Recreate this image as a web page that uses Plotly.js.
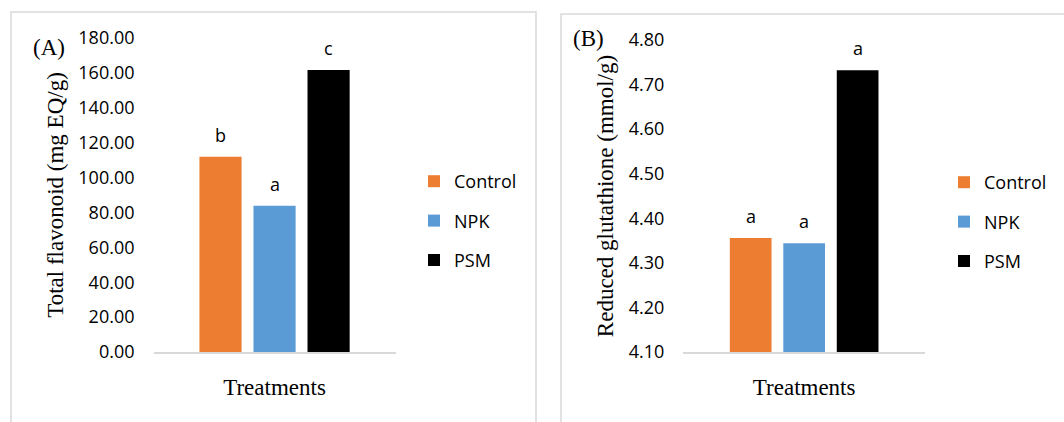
<!DOCTYPE html>
<html>
<head>
<meta charset="utf-8">
<script src="https://cdn.plot.ly/plotly-3.0.1.min.js"></script>
<style>html,body{margin:0;padding:0;background:#fff}#chart{width:1064px;height:422px}</style>
</head>
<body>
<div id="chart"></div>
<script>
// ---- Data ----
const treatments = ["Control", "NPK", "PSM"];
const flavonoid = [111.9, 83.8, 161.6];
const flavonoidLetters = ["b", "a", "c"];
const glutathione = [4.356, 4.344, 4.732];
const glutathioneLetters = ["a", "a", "a"];
const seriesColors = ["#ED7D31", "#5B9BD5", "#000000"];
const panelLabels = ["(A)", "(B)"];
const yTitles = ["Total flavonoid (mg EQ/g)", "Reduced glutathione (mmol/g)"];
const xTitle = "Treatments";

const W = 1064, H = 422;
const sans = "Open Sans, Liberation Sans, sans-serif";
const serif = "Liberation Serif, Times New Roman, serif";

const traces = [];
treatments.forEach((t, i) => {
  traces.push({
    type: "bar", name: t, x: [t], y: [flavonoid[i]],
    xaxis: "x", yaxis: "y", legend: "legend", legendgroup: "a" + i,
    marker: {color: seriesColors[i], line: {width: 0}},
    hoverinfo: "name+y"
  });
});
treatments.forEach((t, i) => {
  traces.push({
    type: "bar", name: t, x: [t], y: [glutathione[i]],
    xaxis: "x2", yaxis: "y2", legend: "legend2", legendgroup: "b" + i,
    marker: {color: seriesColors[i], line: {width: 0}},
    hoverinfo: "name+y"
  });
});

const annotations = [];
treatments.forEach((t, i) => {
  annotations.push({xref: "x", yref: "y", x: t, y: flavonoid[i], text: flavonoidLetters[i],
    showarrow: false, yanchor: "middle", yshift: 22, font: {family: sans, size: 18, color: "#000"}});
  annotations.push({xref: "x2", yref: "y2", x: t, y: glutathione[i], text: glutathioneLetters[i],
    showarrow: false, yanchor: "middle", yshift: 22, font: {family: sans, size: 18, color: "#000"}});
});
annotations.push({xref: "paper", yref: "paper", x: 49 / W, y: (H - 48) / H, text: panelLabels[0],
  showarrow: false, xanchor: "center", yanchor: "middle", font: {family: serif, size: 23, color: "#000"}});
annotations.push({xref: "paper", yref: "paper", x: 588.5 / W, y: (H - 38) / H, text: panelLabels[1],
  showarrow: false, xanchor: "center", yanchor: "middle", font: {family: serif, size: 23, color: "#000"}});

const yDomBottom = (H - 352) / H;
const xaxisCommon = {
  type: "category", showline: true, linecolor: "#d9d9d9", linewidth: 2,
  showticklabels: false, ticks: "", showgrid: false, zeroline: false, fixedrange: true,
  title: {text: xTitle, font: {family: serif, size: 23, color: "#000"}, standoff: 26}
};
const yaxisCommon = {
  showline: false, ticks: "", showgrid: false, zeroline: false, fixedrange: true,
  tickfont: {family: sans, size: 18, color: "#000"}, tickformat: ".2f", ticklabelstandoff: 18
};

const layout = {
  width: W, height: H, margin: {l: 0, r: 0, t: 0, b: 0},
  paper_bgcolor: "#fff", plot_bgcolor: "#fff",
  barmode: "overlay", bargap: 0.22, showlegend: true,
  xaxis: Object.assign({}, xaxisCommon, {domain: [153.5 / W, 395.6 / W], anchor: "y", range: [-1.24, 3.24], categoryorder: "array", categoryarray: treatments}),
  yaxis: Object.assign({}, yaxisCommon, {domain: [yDomBottom, (H - 38) / H], anchor: "x", range: [0, 180], dtick: 20, tick0: 0,
    title: {text: yTitles[0], font: {family: serif, size: 23, color: "#000"}, standoff: 8}}),
  xaxis2: Object.assign({}, xaxisCommon, {domain: [683.3 / W, 925 / W], anchor: "y2", range: [-1.26, 3.26], categoryorder: "array", categoryarray: treatments}),
  yaxis2: Object.assign({}, yaxisCommon, {domain: [yDomBottom, (H - 40) / H], anchor: "x2", range: [4.1, 4.8], dtick: 0.1, tick0: 4.1,
    title: {text: yTitles[1], font: {family: serif, size: 23, color: "#000"}, standoff: 8}}),
  legend: {x: 414 / W, xanchor: "left", y: (H - 163) / H, yanchor: "top", bgcolor: "rgba(0,0,0,0)",
    font: {family: sans, size: 18, color: "#000"}, tracegroupgap: 13, traceorder: "grouped"},
  legend2: {x: 944 / W, xanchor: "left", y: (H - 164) / H, yanchor: "top", bgcolor: "rgba(0,0,0,0)",
    font: {family: sans, size: 18, color: "#000"}, tracegroupgap: 13, traceorder: "grouped"},
  annotations: annotations,
  shapes: [
    {type: "rect", xref: "paper", yref: "paper", x0: 11 / W, x1: 536 / W, y0: -0.05, y1: (H - 12) / H,
      line: {color: "#d9d9d9", width: 1.5}, fillcolor: "rgba(0,0,0,0)", layer: "below"},
    {type: "rect", xref: "paper", yref: "paper", x0: 561 / W, x1: 1.05, y0: -0.05, y1: (H - 14) / H,
      line: {color: "#d9d9d9", width: 1.5}, fillcolor: "rgba(0,0,0,0)", layer: "below"}
  ]
};

Plotly.newPlot("chart", traces, layout, {displayModeBar: false, staticPlot: false});
</script>
</body>
</html>
